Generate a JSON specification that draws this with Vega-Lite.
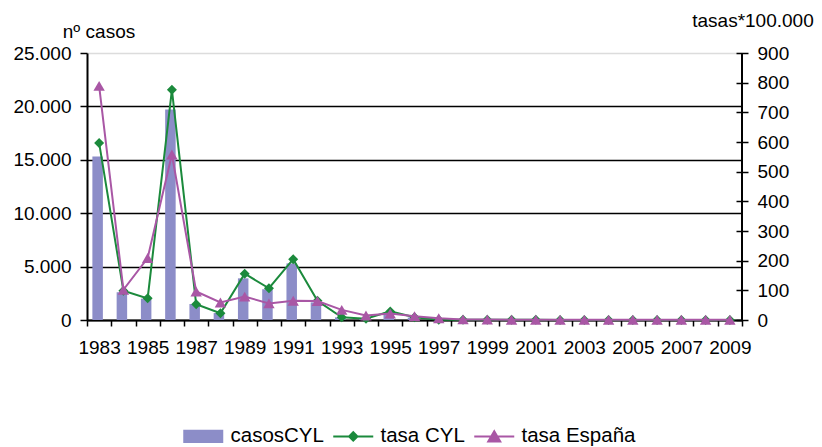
{
  "$schema": "https://vega.github.io/schema/vega-lite/v6.json",
  "width": 655,
  "height": 267,
  "autosize": {"type": "none"},
  "padding": {"left": 87, "top": 53, "right": 80, "bottom": 127},
  "background": "white",
  "config": {
    "view": {"stroke": null},
    "font": "Liberation Sans",
    "axis": {
      "labelFont": "Liberation Sans",
      "titleFont": "Liberation Sans",
      "labelFontSize": 19,
      "titleFontSize": 19,
      "labelColor": "black",
      "titleColor": "black",
      "titleFontWeight": "normal",
      "domainColor": "black",
      "tickColor": "black",
      "domainWidth": 2,
      "tickWidth": 1.5
    }
  },
  "data": {
    "values": [
      {"year": 1983, "casos": 15300, "cyl": 597, "esp": 789},
      {"year": 1984, "casos": 2600, "cyl": 99, "esp": 102},
      {"year": 1985, "casos": 2000, "cyl": 73, "esp": 209},
      {"year": 1986, "casos": 19700, "cyl": 776, "esp": 558},
      {"year": 1987, "casos": 1500, "cyl": 53, "esp": 96},
      {"year": 1988, "casos": 650, "cyl": 23, "esp": 59},
      {"year": 1989, "casos": 3900, "cyl": 156, "esp": 79},
      {"year": 1990, "casos": 2880, "cyl": 107, "esp": 56},
      {"year": 1991, "casos": 5300, "cyl": 205, "esp": 65},
      {"year": 1992, "casos": 1650, "cyl": 65, "esp": 64},
      {"year": 1993, "casos": 250, "cyl": 9, "esp": 34},
      {"year": 1994, "casos": 120, "cyl": 4, "esp": 15},
      {"year": 1995, "casos": 750, "cyl": 29, "esp": 22},
      {"year": 1996, "casos": 230, "cyl": 9, "esp": 13},
      {"year": 1997, "casos": 30, "cyl": 1, "esp": 6},
      {"year": 1998, "casos": 20, "cyl": 1, "esp": 2},
      {"year": 1999, "casos": 10, "cyl": 0.5, "esp": 1.5},
      {"year": 2000, "casos": 10, "cyl": 0.5, "esp": 1},
      {"year": 2001, "casos": 10, "cyl": 0.5, "esp": 1},
      {"year": 2002, "casos": 5, "cyl": 0.3, "esp": 1},
      {"year": 2003, "casos": 5, "cyl": 0.3, "esp": 1},
      {"year": 2004, "casos": 5, "cyl": 0.3, "esp": 1},
      {"year": 2005, "casos": 5, "cyl": 0.3, "esp": 1},
      {"year": 2006, "casos": 5, "cyl": 0.3, "esp": 1},
      {"year": 2007, "casos": 5, "cyl": 0.3, "esp": 1},
      {"year": 2008, "casos": 5, "cyl": 0.3, "esp": 1},
      {"year": 2009, "casos": 5, "cyl": 0.3, "esp": 1}
    ]
  },
  "encoding": {
    "x": {
      "field": "year",
      "type": "ordinal",
      "scale": {"paddingInner": 0, "paddingOuter": 0},
      "axis": {
        "title": null,
        "labelAngle": 0,
        "labelOverlap": false,
        "labelBound": false,
        "labelFlush": false,
        "tickBand": "extent",
        "tickSize": 6,
        "labelPadding": 12,
        "labelExpr": "datum.value % 2 == 1 ? datum.label : ''"
      }
    }
  },
  "layer": [
    {
      "mark": {"type": "bar", "width": 10.5, "xOffset": -1.5},
      "encoding": {
        "y": {
          "field": "casos",
          "type": "quantitative",
          "scale": {"domain": [0, 25000], "nice": false},
          "axis": {
            "orient": "left",
            "values": [0, 5000, 10000, 15000, 20000, 25000],
            "labelExpr": "replace(format(datum.value, ',d'), ',', '.')",
            "tickSize": 7,
            "labelPadding": 9,
            "grid": true,
            "gridColor": {"condition": {"test": "datum.value >= 25000", "value": "#dcdcdc"}, "value": "black"},
            "gridWidth": 1.6,
            "title": "nº casos",
            "titleAngle": 0,
            "titleAlign": "center",
            "titleBaseline": "alphabetic",
            "titleX": 11.5,
            "titleY": -16
          }
        },
        "color": {
          "datum": "casosCYL",
          "scale": {
            "domain": ["casosCYL", "tasa CYL", "tasa España"],
            "range": ["#8c8dc8", "#1b8a3c", "#a957a5"]
          },
          "legend": {
            "orient": "none",
            "legendX": 106,
            "legendY": 373,
            "direction": "horizontal",
            "title": null,
            "padding": 0,
            "symbolSize": 1600,
            "labelFont": "Liberation Sans",
            "labelFontSize": 20.5,
            "labelColor": "black",
            "labelOffset": 17,
            "columnPadding": 5,
            "encode": {
              "symbols": {
                "update": {
                  "shape": {"signal": "datum.value === 'casosCYL' ? 'M-1,-0.33H1V0.33H-1Z' : datum.value === 'tasa CYL' ? 'M-1,0H1M-0.21,0L0,-0.21L0.21,0L0,0.21Z' : 'M-1,0H1M-0.3,0.26L0,-0.26L0.3,0.26Z'"},
                  "fill": {"scale": "color", "field": "value"},
                  "stroke": {"scale": "color", "field": "value"},
                  "strokeWidth": {"signal": "datum.value === 'casosCYL' ? 0 : 2"},
                  "opacity": {"value": 1},
                  "fillOpacity": {"value": 1},
                  "strokeOpacity": {"value": 1}
                }
              }
            }
          }
        }
      }
    },
    {
      "layer": [
        {
          "mark": {"type": "line", "strokeWidth": 2, "point": {"shape": "diamond", "filled": true, "size": 100, "opacity": 1}},
          "encoding": {
            "y": {
              "field": "cyl",
              "type": "quantitative",
              "scale": {"domain": [0, 900], "nice": false},
              "axis": {
                "orient": "right",
                "offset": -6,
                "domain": false,
                "values": [0, 100, 200, 300, 400, 500, 600, 700, 800, 900],
                "tickSize": 12,
                "labelPadding": 9,
                "grid": false,
                "title": "tasas*100.000",
                "titleAngle": 0,
                "titleAlign": "center",
                "titleBaseline": "alphabetic",
                "titleX": 16.5,
                "titleY": -27
              }
            },
            "color": {"datum": "tasa CYL"}
          }
        },
        {
          "mark": {"type": "line", "strokeWidth": 2, "point": {"shape": "triangle-up", "filled": true, "size": 130, "opacity": 1}},
          "encoding": {
            "y": {
              "field": "esp",
              "type": "quantitative",
              "scale": {"domain": [0, 900], "nice": false},
              "axis": {
                "orient": "right",
                "offset": -6,
                "domain": false,
                "values": [0, 100, 200, 300, 400, 500, 600, 700, 800, 900],
                "tickSize": 12,
                "labelPadding": 9,
                "grid": false,
                "title": "tasas*100.000",
                "titleAngle": 0,
                "titleAlign": "center",
                "titleBaseline": "alphabetic",
                "titleX": 16.5,
                "titleY": -27
              }
            },
            "color": {"datum": "tasa España"}
          }
        }
      ]
    },
    {
      "mark": {"type": "rule", "color": "black", "strokeWidth": 2},
      "encoding": {
        "x": {"datum": 2009, "type": "ordinal", "bandPosition": 1}
      }
    }
  ],
  "resolve": {"scale": {"y": "independent"}}
}
